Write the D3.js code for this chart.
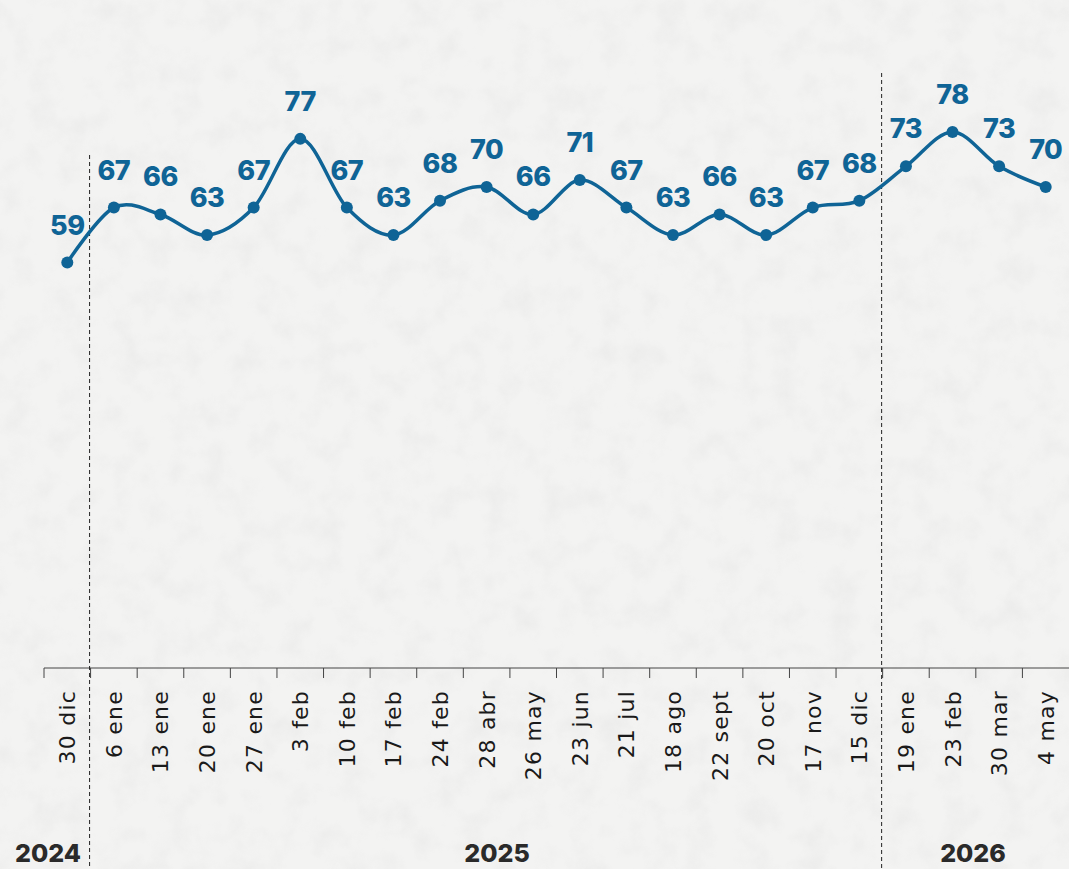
<!DOCTYPE html>
<html>
<head>
<meta charset="utf-8">
<script src="https://cdn.jsdelivr.net/npm/d3@7"></script>
<style>
  html, body { margin: 0; padding: 0; background: #f2f2f1; }
  #chart { width: 1069px; height: 869px; }
</style>
</head>
<body>
<div id="chart"></div>
<script>
document.addEventListener("DOMContentLoaded", function() {

  // data
  let dates = ["30 dic", "6 ene", "13 ene", "20 ene", "27 ene", "3 feb", "10 feb", "17 feb",
               "24 feb", "28 abr", "26 may", "23 jun", "21 jul", "18 ago", "22 sept", "20 oct",
               "17 nov", "15 dic", "19 ene", "23 feb", "30 mar", "4 may"];
  let values = [59, 67, 66, 63, 67, 77, 67, 63, 68, 70, 66, 71, 67, 63, 66, 63, 67, 68, 73, 78, 73, 70];
  let years = ["2024", "2025", "2026"];

  let svgWidth = 1069,
      svgHeight = 869,
      axisY = 668,
      blue = "#0f6496";

  let svg = d3.select("#chart")
              .append("svg")
              .attr("width", svgWidth)
              .attr("height", svgHeight)
              .attr("viewBox", `0 0 ${svgWidth} ${svgHeight}`);

  // paper texture
  let defs = svg.append("defs");
  let filter = defs.append("filter").attr("id", "paper");
  filter.append("feTurbulence")
    .attr("type", "fractalNoise")
    .attr("baseFrequency", "0.035")
    .attr("numOctaves", 4)
    .attr("seed", 7);
  filter.append("feColorMatrix")
    .attr("type", "matrix")
    .attr("values", "0 0 0 0 0.55  0 0 0 0 0.55  0 0 0 0 0.55  0 0 0 -1.1 0.62");

  svg.append("rect")
    .attr("width", svgWidth).attr("height", svgHeight)
    .attr("fill", "#f3f3f2");
  svg.append("rect")
    .attr("width", svgWidth).attr("height", svgHeight)
    .attr("filter", "url(#paper)")
    .attr("opacity", 0.25);

  let x = d3.scaleBand().domain(dates).range([44, 1069]).padding(0);
  let y = d3.scaleLinear().domain([0, 78]).range([axisY, 132]);

  let cx = function(d, i) { return x(dates[i]) + x.bandwidth() / 2; };

  // axis
  let axis = svg.append("g").attr("class", "x-axis");
  axis.append("line")
    .attr("x1", x.range()[0]).attr("x2", x.range()[1])
    .attr("y1", axisY).attr("y2", axisY)
    .attr("stroke", "#444").attr("stroke-width", 1);

  axis.selectAll("line.tick")
    .data(dates)
    .enter().append("line")
      .attr("class", "tick")
      .attr("x1", function(d) { return x(d); })
      .attr("x2", function(d) { return x(d); })
      .attr("y1", axisY).attr("y2", axisY + 10)
      .attr("stroke", "#444").attr("stroke-width", 1);

  axis.selectAll("text")
    .data(dates)
    .enter().append("text")
      .attr("transform", function(d, i) { return `translate(${cx(d, i) + 8},${axisY + 22}) rotate(-90)`; })
      .attr("text-anchor", "end")
      .attr("font-family", "'DejaVu Sans', sans-serif")
      .attr("font-size", "22px")
      .attr("letter-spacing", "1.2px")
      .attr("fill", "#1a1a1a")
      .text(function(d) { return d; });

  // year separators
  svg.selectAll("line.sep")
    .data([{i: 1, top: 155}, {i: 18, top: 73}])
    .enter().append("line")
      .attr("class", "sep")
      .attr("x1", function(d) { return x(dates[d.i]) - 1; })
      .attr("x2", function(d) { return x(dates[d.i]) - 1; })
      .attr("y1", function(d) { return d.top; })
      .attr("y2", svgHeight)
      .attr("stroke", "#222")
      .attr("stroke-width", 1)
      .attr("stroke-dasharray", "4,3");

  // year labels
  let yearX = [48, 497, 973];
  svg.selectAll("text.year")
    .data(years)
    .enter().append("text")
      .attr("class", "year")
      .attr("x", function(d, i) { return yearX[i]; })
      .attr("y", 862)
      .attr("text-anchor", "middle")
      .attr("font-family", "Inter, 'Open Sans', sans-serif")
      .attr("font-weight", "800")
      .attr("font-size", "25px")
      .attr("fill", "#2a2a2a")
      .text(function(d) { return d; });

  // line
  let line = d3.line()
    .x(cx)
    .y(function(d) { return y(d); })
    .curve(d3.curveCardinal);

  svg.append("path")
    .datum(values)
    .attr("d", line)
    .attr("fill", "none")
    .attr("stroke", blue)
    .attr("stroke-width", 3.5)
    .attr("stroke-linecap", "round");

  svg.append("g").selectAll("circle")
    .data(values)
    .enter().append("circle")
      .attr("cx", cx)
      .attr("cy", function(d) { return y(d); })
      .attr("r", 6)
      .attr("fill", blue);

  svg.append("g").selectAll("text")
    .data(values)
    .enter().append("text")
      .attr("x", cx)
      .attr("y", function(d) { return y(d) - 28; })
      .attr("text-anchor", "middle")
      .attr("font-family", "Inter, 'Open Sans', sans-serif")
      .attr("font-weight", "800")
      .attr("font-size", "27px")
      .attr("letter-spacing", "-0.5px")
      .attr("fill", blue)
      .text(function(d) { return d; });

});
</script>
</body>
</html>
